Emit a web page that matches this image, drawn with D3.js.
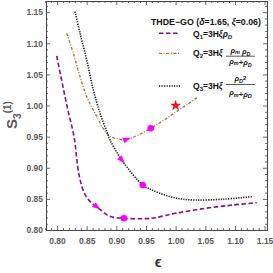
<!DOCTYPE html>
<html><head><meta charset="utf-8">
<script src="https://cdn.jsdelivr.net/npm/d3@7"></script>
<style>body{margin:0;background:#fff}svg{display:block}</style>
</head><body>
<script>
// ---- data ----
const q1Eps = [0.7995,0.8164,0.8287,0.8374,0.8476,0.8577,0.8669,0.8882,0.9130,0.9491,0.9653,0.9998,1.0506,1.0950,1.1368];
const q1S   = [1.0797,1.0010,0.9497,0.8868,0.8563,0.8439,0.8375,0.8225,0.8188,0.8182,0.8198,0.8268,0.8349,0.8400,0.8439];
const q2Eps = [0.8164,0.8275,0.8388,0.8501,0.8641,0.8838,0.8978,0.9175,0.9371,0.9580,0.9800,1.0000,1.0200,1.0383];
const q2S   = [1.1162,1.0841,1.0465,1.0143,0.9876,0.9555,0.9474,0.9458,0.9527,0.9635,0.9765,0.9895,1.0020,1.0143];
const q3Eps = [0.8304,0.8388,0.8501,0.8612,0.8725,0.8838,0.8894,0.9091,0.9445,0.9568,0.9737,1.0019,1.0327,1.0800,1.1283];
const q3S   = [1.1510,1.1162,1.0733,1.0251,0.9876,0.9584,0.9447,0.9125,0.8723,0.8659,0.8590,0.8510,0.8482,0.8495,0.8535];
const circleEps = [0.9130,0.9580,0.9445];
const circleS   = [0.8188,0.9635,0.8723];
const arrowEps  = [0.8669,0.9175,0.9091];
const arrowS    = [0.8375,0.9458,0.9125];
const arrowNextEps = [0.8882,0.9371,0.9445];
const arrowNextS   = [0.8225,0.9527,0.8723];
const starEps = [1.0];
const starS   = [1.0];
const xTicks = [0.80,0.85,0.90,0.95,1.00,1.05,1.10,1.15];
const yTicks = [0.80,0.85,0.90,0.95,1.00,1.05,1.10,1.15];
const legendTitle = "THDE\u2212GO (";

// ---- layout ----
const W = 273, H = 273;
const m = {l:46, r:6, t:1, b:43};
const svg = d3.select("body").append("svg").attr("width",W).attr("height",H)
  .style("font-family","'Liberation Sans', Arial, sans-serif");
const x = d3.scaleLinear().domain([0.7814,1.1541]).range([m.l, W-m.r]);
const y = d3.scaleLinear().domain([0.80,1.168]).range([H-m.b, m.t]);

const axisCol = "#444", labCol = "#5a5a5a";
const minorX = d3.range(78,116).map(d=>d/100).filter(d=>Math.abs(d*20-Math.round(d*20))>1e-6);
const minorY = d3.range(80,117).map(d=>d/100).filter(d=>Math.abs(d*20-Math.round(d*20))>1e-6);

function styleAxis(g){
  g.selectAll("path").attr("stroke",axisCol).attr("stroke-width",1);
  g.selectAll("line").attr("stroke",axisCol).attr("stroke-width",0.8);
  g.selectAll("text").attr("fill",labCol).attr("font-size","8.5px").attr("font-weight","bold");
}
const fmt = d3.format(".2f");
// bottom
svg.append("g").attr("transform",`translate(0,${H-m.b})`)
  .call(d3.axisBottom(x).tickValues(xTicks).tickSize(-4).tickPadding(8).tickFormat(fmt)).call(styleAxis);
svg.append("g").attr("transform",`translate(0,${H-m.b})`)
  .call(d3.axisBottom(x).tickValues(minorX).tickSize(-2).tickFormat("")).call(styleAxis);
// top
svg.append("g").attr("transform",`translate(0,${m.t})`)
  .call(d3.axisTop(x).tickValues(xTicks).tickSize(-4).tickFormat("")).call(styleAxis);
svg.append("g").attr("transform",`translate(0,${m.t})`)
  .call(d3.axisTop(x).tickValues(minorX).tickSize(-2).tickFormat("")).call(styleAxis);
// left
svg.append("g").attr("transform",`translate(${m.l},0)`)
  .call(d3.axisLeft(y).tickValues(yTicks).tickSize(-4).tickPadding(3).tickFormat(fmt)).call(styleAxis);
svg.append("g").attr("transform",`translate(${m.l},0)`)
  .call(d3.axisLeft(y).tickValues(minorY).tickSize(-2).tickFormat("")).call(styleAxis);
// right
svg.append("g").attr("transform",`translate(${W-m.r},0)`)
  .call(d3.axisRight(y).tickValues(yTicks).tickSize(-4).tickFormat("")).call(styleAxis);
svg.append("g").attr("transform",`translate(${W-m.r},0)`)
  .call(d3.axisRight(y).tickValues(minorY).tickSize(-2).tickFormat("")).call(styleAxis);

// ---- curves ----
const line = d3.line().x(d=>x(d[0])).y(d=>y(d[1])).curve(d3.curveCatmullRom.alpha(0.5));
const series = [
  {e:q1Eps, s:q1S, col:"#8a0a8f", w:1.6, dash:"4.5,2.5"},
  {e:q2Eps, s:q2S, col:"#a87440", w:1.3, dash:"3,1.6,1,1.6"},
  {e:q3Eps, s:q3S, col:"#111", w:1.6, dash:"1.2,1.3"}
];
series.forEach(sr=>{
  svg.append("path").datum(sr.e.map((e,i)=>[e,sr.s[i]]))
    .attr("d",line).attr("fill","none").attr("stroke",sr.col)
    .attr("stroke-width",sr.w).attr("stroke-dasharray",sr.dash);
});

// arrows
arrowEps.forEach((e,i)=>{
  const px=x(e), py=y(arrowS[i]);
  const ang = Math.atan2(y(arrowNextS[i])-py, x(arrowNextEps[i])-px)*180/Math.PI;
  svg.append("path").attr("d","M4.5,0 L-3.5,-3 L-3.5,3 Z")
    .attr("transform",`translate(${px},${py}) rotate(${ang})`).attr("fill","#ff00ff");
});
// circles
circleEps.forEach((e,i)=>{
  svg.append("circle").attr("cx",x(e)).attr("cy",y(circleS[i])).attr("r",3.3).attr("fill","#ff00ff");
});
// star
starEps.forEach((e,i)=>{
  svg.append("path").attr("d",d3.symbol(d3.symbolStar).size(30)())
    .attr("transform",`translate(${x(e)},${y(starS[i])})`)
    .attr("fill","#ff1010").attr("stroke","#d00000").attr("stroke-width",0.4);
});

// ---- labels ----
const yl = svg.append("text").attr("transform","translate(17,115) rotate(-90)")
  .attr("text-anchor","middle").attr("fill",labCol).attr("font-size","15px").attr("font-weight","bold");
yl.append("tspan").text("S");
yl.append("tspan").attr("font-size","10px").attr("dy",4).text("3");
yl.append("tspan").attr("font-size","10px").attr("dy",-10).text("(1)");

svg.append("text").attr("x",158).attr("y",267).attr("text-anchor","middle")
  .attr("fill","#333").attr("font-size","14px").attr("font-weight","bold").text("\u03F5");

// ---- legend ----
const lg = svg.append("g").attr("font-weight","bold").attr("fill","#111");
const t = lg.append("text").attr("x",151).attr("y",25).attr("font-size","8.8px");
t.append("tspan").text(legendTitle);
t.append("tspan").attr("font-style","italic").text("\u03B4");
t.append("tspan").text("=1.65, ");
t.append("tspan").attr("font-style","italic").text("\u03BE");
t.append("tspan").text("=0.06)");

const legY = [33.3, 53.3, 86];
series.forEach((sr,i)=>{
  lg.append("line").attr("x1",159).attr("x2",180).attr("y1",legY[i]).attr("y2",legY[i])
    .attr("stroke",sr.col).attr("stroke-width",sr.w).attr("stroke-dasharray",sr.dash);
});
function qText(yb, n){
  const tx = lg.append("text").attr("x",193).attr("y",yb).attr("font-size","8.5px");
  tx.append("tspan").text("Q");
  tx.append("tspan").attr("font-size","6px").attr("dy",2).text(n);
  tx.append("tspan").attr("dy",-2).text("=3H");
  tx.append("tspan").attr("font-style","italic").text("\u03BE");
  return tx;
}
const q1t = qText(36.5,"1");
q1t.append("tspan").attr("font-style","italic").text("\u03C1");
q1t.append("tspan").attr("font-style","italic").attr("font-size","6px").attr("dy",2).text("D");

function rho(tx, sub){
  tx.append("tspan").attr("font-style","italic").text("\u03C1");
  tx.append("tspan").attr("font-style","italic").attr("font-size","5.5px").attr("dy",1.5).text(sub);
  tx.append("tspan").attr("dy",-1.5).text("");
}
qText(56,"2");
let n2 = lg.append("text").attr("x",240.5).attr("y",52.5).attr("font-size","7.5px").attr("text-anchor","middle");
rho(n2,"m"); n2.append("tspan").text(" "); rho(n2,"D");
lg.append("line").attr("x1",226).attr("x2",255).attr("y1",56.2).attr("y2",56.2).attr("stroke","#111").attr("stroke-width",0.7);
let d2 = lg.append("text").attr("x",240.5).attr("y",63.5).attr("font-size","7.5px").attr("text-anchor","middle");
rho(d2,"m"); d2.append("tspan").text("+"); rho(d2,"D");

qText(89,"3");
let n3 = lg.append("text").attr("x",240.5).attr("y",81).attr("font-size","7.5px").attr("text-anchor","middle");
rho(n3,"D"); n3.append("tspan").attr("font-size","6px").attr("dy",-3).text("2");
lg.append("line").attr("x1",226).attr("x2",255).attr("y1",84.5).attr("y2",84.5).attr("stroke","#111").attr("stroke-width",0.7);
let d3t = lg.append("text").attr("x",240.5).attr("y",95).attr("font-size","7.5px").attr("text-anchor","middle");
rho(d3t,"m"); d3t.append("tspan").text("+"); rho(d3t,"D");
</script>
</body></html>
